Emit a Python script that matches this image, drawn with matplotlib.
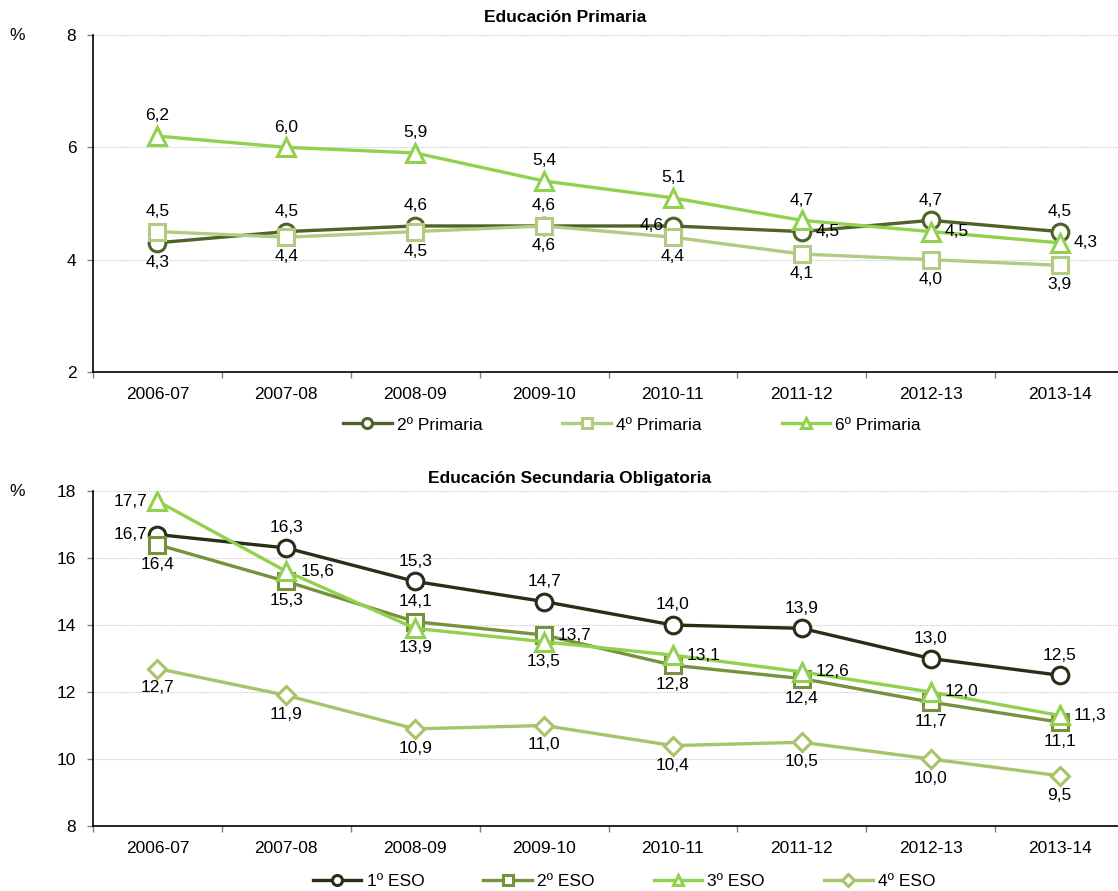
import matplotlib
matplotlib.use('Agg')
import matplotlib.pyplot as plt
import numpy as np

plt.rcParams['font.family'] = ['Liberation Sans', 'DejaVu Sans']
plt.rcParams['font.size'] = 12

years = ['2006-07', '2007-08', '2008-09', '2009-10', '2010-11', '2011-12', '2012-13', '2013-14']

# Educación Primaria
prim_2 = [4.3, 4.5, 4.6, 4.6, 4.6, 4.5, 4.7, 4.5]
prim_4 = [4.5, 4.4, 4.5, 4.6, 4.4, 4.1, 4.0, 3.9]
prim_6 = [6.2, 6.0, 5.9, 5.4, 5.1, 4.7, 4.5, 4.3]
prim_2_pos = ['below', 'above', 'above', 'above', 'left', 'right', 'above', 'above']
prim_4_pos = ['above', 'below', 'below', 'below', 'below', 'below', 'below', 'below']
prim_6_pos = ['above', 'above', 'above', 'above', 'above', 'above', 'right', 'right']

# Educación Secundaria Obligatoria
eso_1 = [16.7, 16.3, 15.3, 14.7, 14.0, 13.9, 13.0, 12.5]
eso_2 = [16.4, 15.3, 14.1, 13.7, 12.8, 12.4, 11.7, 11.1]
eso_3 = [17.7, 15.6, 13.9, 13.5, 13.1, 12.6, 12.0, 11.3]
eso_4 = [12.7, 11.9, 10.9, 11.0, 10.4, 10.5, 10.0, 9.5]
eso_1_pos = ['left', 'above', 'above', 'above', 'above', 'above', 'above', 'above']
eso_2_pos = ['below', 'below', 'above', 'right', 'below', 'below', 'below', 'below']
eso_3_pos = ['left', 'right', 'below', 'below', 'right', 'right', 'right', 'right']
eso_4_pos = ['below'] * 8

OFFSETS = {
    'above': ((0, 14.5), 'center'),
    'below': ((0, -14), 'center'),
    'left': ((-7, 0), 'right'),
    'right': ((10, 0), 'left'),
}


def fmt(v):
    return f'{v:.1f}'.replace('.', ',')


def draw_series(ax, values, positions, label, color, marker, ms, z):
    x = np.arange(len(values))
    line, = ax.plot(x, values, color=color, lw=2.4, marker=marker, ms=ms,
                    mfc='white', mec=color, mew=2.2, label=label, zorder=z)
    for xi, v, p in zip(x, values, positions):
        off, ha = OFFSETS[p]
        ax.annotate(fmt(v), (xi, v), xytext=off, textcoords='offset points',
                    ha=ha, va='center', fontsize=12.5, zorder=10)
    return line


def style_axes(ax, ylim, yticks):
    ax.set_xlim(-0.5, len(years) - 0.5)
    ax.set_ylim(*ylim)
    ax.set_yticks(yticks)
    ax.set_xticks(range(len(years)))
    ax.set_xticklabels(years, fontsize=12.5)
    ax.set_xticks(np.arange(-0.5, len(years), 1), minor=True)
    ax.tick_params(axis='x', which='major', length=0, pad=11)
    ax.tick_params(axis='x', which='minor', length=4, color='#808080', width=1)
    ax.tick_params(axis='y', length=4, color='#808080', width=1, pad=8,
                   labelsize=12.5)
    ax.yaxis.grid(True, linestyle=(0, (1, 1)), color='#C8C8C8', linewidth=0.8)
    ax.set_axisbelow(True)
    for s in ['top', 'right']:
        ax.spines[s].set_visible(False)
    for s in ['left', 'bottom']:
        ax.spines[s].set_color('black')
        ax.spines[s].set_linewidth(1.2)


fig = plt.figure(figsize=(11.18, 8.91), dpi=100)
W, H = 1118, 891

ax1 = fig.add_axes([93 / W, 1 - 372 / H, 1031 / W, 337 / H])
h1 = draw_series(ax1, prim_2, prim_2_pos, '2º Primaria', '#4F6228', 'o', 12, 3)
h2 = draw_series(ax1, prim_4, prim_4_pos, '4º Primaria', '#B0CC82', 's', 11, 4)
h3 = draw_series(ax1, prim_6, prim_6_pos, '6º Primaria', '#92D050', '^', 12.5, 5)
style_axes(ax1, (2, 8), [2, 4, 6, 8])
fig.text(565 / W, 1 - 17 / H, 'Educación Primaria', ha='center', va='center',
         fontsize=12.5, fontweight='bold')
fig.text(17 / W, 1 - 35 / H, '%', ha='center', va='center', fontsize=12.5)
fig.legend([h1, h2, h3], [h.get_label() for h in (h1, h2, h3)], loc='center',
           bbox_to_anchor=(632 / W, 1 - 425 / H), ncol=3, frameon=False,
           handlelength=2.8, handletextpad=0.3, columnspacing=4.6,
           fontsize=12.5, markerscale=0.6)

ax2 = fig.add_axes([93 / W, 1 - 826 / H, 1031 / W, 335 / H])
g1 = draw_series(ax2, eso_1, eso_1_pos, '1º ESO', '#253017', 'o', 12, 3)
g2 = draw_series(ax2, eso_2, eso_2_pos, '2º ESO', '#76923C', 's', 11, 4)
g3 = draw_series(ax2, eso_3, eso_3_pos, '3º ESO', '#92D050', '^', 12.5, 5)
g4 = draw_series(ax2, eso_4, eso_4_pos, '4º ESO', '#A6C46A', 'D', 9.5, 2)
style_axes(ax2, (8, 18), [8, 10, 12, 14, 16, 18])
fig.text(570 / W, 1 - 478 / H, 'Educación Secundaria Obligatoria', ha='center',
         va='center', fontsize=12.5, fontweight='bold')
fig.text(17 / W, 1 - 491 / H, '%', ha='center', va='center', fontsize=12.5)
fig.legend([g1, g2, g3, g4], [g.get_label() for g in (g1, g2, g3, g4)],
           loc='center', bbox_to_anchor=(624 / W, 1 - 881 / H), ncol=4,
           frameon=False, handlelength=2.8, handletextpad=0.3,
           columnspacing=3.4, fontsize=12.5, markerscale=0.6)

fig.savefig('out.png', dpi=100)
